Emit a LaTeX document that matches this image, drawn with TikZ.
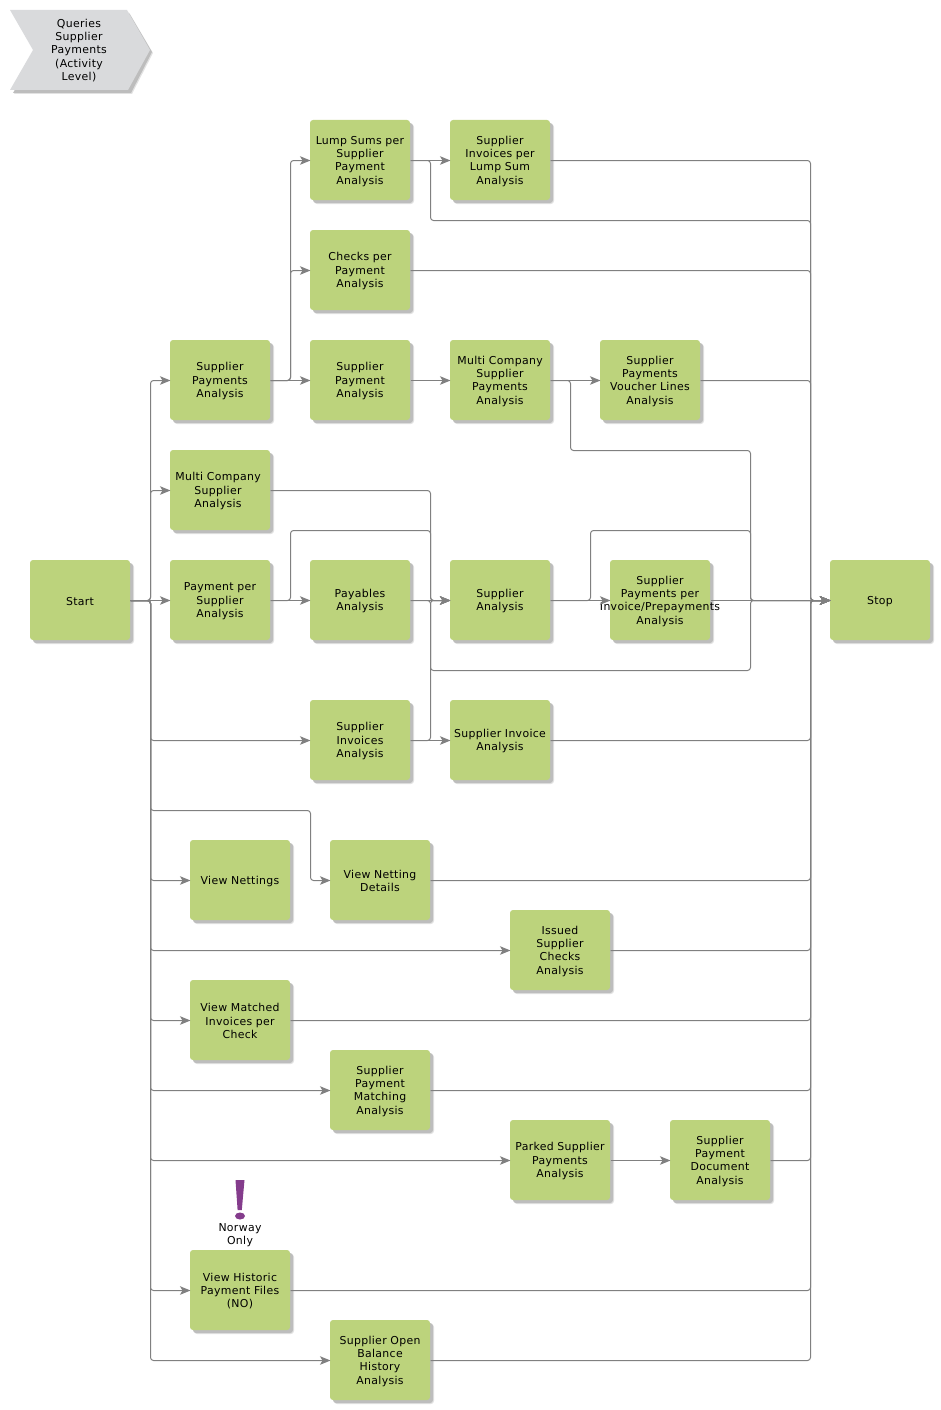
\documentclass[tikz,border=0pt]{standalone}
\usepackage{fontspec}
\setmainfont[LetterSpace=3]{DejaVu Sans}
\usetikzlibrary{arrows.meta,shadows}
\tikzset{
	activity/.style={rectangle,rounded corners=3pt,fill=boxgreen,minimum width=100pt,minimum height=80pt,inner sep=0pt,outer sep=0pt,text width=100pt,align=center,font=\fontsize{10.9}{13.3}\selectfont,execute at begin node={\rule{0pt}{10.5pt}},drop shadow={shadow xshift=4pt,shadow yshift=-4pt,fill=shadowpale,opacity=1},drop shadow={shadow xshift=3pt,shadow yshift=-3pt,fill=shadowgray,opacity=1}},
	flow/.style={draw=linegray,line width=1pt,rounded corners=3pt,transform canvas={xshift=0.5pt,yshift=-0.5pt}},
	flowto/.style={flow,-{Stealth[length=10.5pt,width=8.5pt,inset=2.5pt]}},
	caption/.style={align=center,font=\fontsize{10.9}{13.3}\selectfont}
}
\definecolor{boxgreen}{HTML}{BCD37C}
\definecolor{shadowgray}{HTML}{BDBDBD}
\definecolor{shadowpale}{HTML}{E2E2E2}
\definecolor{linegray}{HTML}{808080}
\definecolor{titlegray}{HTML}{D9DADC}
\definecolor{markpurple}{HTML}{843C8C}
\begin{document}
\begin{tikzpicture}[x=1pt,y=-1pt]
		\useasboundingbox (0,0) rectangle (940,1410);

		\fill[shadowpale] (14,14) -- (130,14) -- (153,53) -- (132,94) -- (14,94) -- (37,54) -- cycle;
		\fill[shadowgray] (13,13) -- (129,13) -- (152,52) -- (131,93) -- (13,93) -- (36,53) -- cycle;
		\fill[titlegray] (10,10) -- (127,10) -- (150,50) -- (128,90) -- (10,90) -- (33,50) -- cycle;
		\node[caption] (title) at (79,50.5) {Queries\\Supplier\\Payments\\(Activity\\Level)};

		\coordinate (busl) at (150,0);
		\coordinate (busr) at (810,0);
		\coordinate (forka) at (290,0);
		\coordinate (forkb) at (430,0);
		\coordinate (forkc) at (570,0);
		\coordinate (forkd) at (590,0);
		\coordinate (forke) at (750,0);
		\coordinate (netx) at (310,0);
		\coordinate (toprow) at (0,220);
		\coordinate (midrow) at (0,530);
		\coordinate (lowrow) at (0,670);
		\coordinate (backrow) at (0,450);
		\coordinate (netrow) at (0,810);

		\node[activity] (start) at (80,600) {Start};
		\node[activity] (stop) at (880,600) {Stop};
		\node[activity] (suppay) at (220,380) {Supplier\\Payments\\Analysis};
		\node[activity] (lump) at (360,160) {Lump Sums per\\Supplier\\Payment\\Analysis};
		\node[activity] (invlump) at (500,160) {Supplier\\Invoices per\\Lump Sum\\Analysis};
		\node[activity] (checks) at (360,270) {Checks per\\Payment\\Analysis};
		\node[activity] (payment) at (360,380) {Supplier\\Payment\\Analysis};
		\node[activity] (mcsuppay) at (500,380) {Multi Company\\Supplier\\Payments\\Analysis};
		\node[activity] (voucher) at (650,380) {Supplier\\Payments\\Voucher Lines\\Analysis};
		\node[activity] (mcsup) at (220,490) {\hspace*{-4pt}Multi Company\\\hspace*{-4pt}Supplier\\\hspace*{-4pt}Analysis};
		\node[activity] (payper) at (220,600) {Payment per\\Supplier\\Analysis};
		\node[activity] (payables) at (360,600) {Payables\\Analysis};
		\node[activity] (supana) at (500,600) {Supplier\\Analysis};
		\node[activity] (perinv) at (660,600) {Supplier\\Payments per\\\makebox[0pt]{Invoice/Prepayments}\\Analysis};
		\node[activity] (supinv) at (360,740) {Supplier\\Invoices\\Analysis};
		\node[activity] (invana) at (500,740) {Supplier Invoice\\Analysis};
		\node[activity] (nettings) at (240,880) {View Nettings};
		\node[activity] (netdet) at (380,880) {View Netting\\Details};
		\node[activity] (issued) at (560,950) {Issued\\Supplier\\Checks\\Analysis};
		\node[activity] (matched) at (240,1020) {View Matched\\Invoices per\\Check};
		\node[activity] (matching) at (380,1090) {Supplier\\Payment\\Matching\\Analysis};
		\node[activity] (parked) at (560,1160) {Parked Supplier\\Payments\\Analysis};
		\node[activity] (docana) at (720,1160) {Supplier\\Payment\\Document\\Analysis};
		\node[activity] (historic) at (240,1290) {View Historic\\Payment Files\\(NO)};
		\node[activity] (openbal) at (380,1360) {Supplier Open\\Balance\\History\\Analysis};

		\fill[markpurple] (235.5,1180) -- (244.5,1180) -- (241.8,1210) -- (237.6,1210) -- cycle;
		\fill[markpurple] (240,1216) ellipse (5 and 3.5);
		\node[caption] (norway) at (240,1235) {Norway\\Only};

		% out of start
		\draw[flowto] (start.east) -- (start.east -| busl) |- (suppay.west);
		\draw[flowto] (start.east) -- (start.east -| busl) |- (mcsup.west);
		\draw[flowto] (start.east) -- (payper.west);
		\draw[flowto] (start.east) -- (start.east -| busl) |- (supinv.west);
		\draw[flowto] (start.east) -- (start.east -| busl) |- (nettings.west);
		\draw[flowto] (start.east) -- (start.east -| busl) |- (netrow -| netx) -- (netdet.west -| netx) -- (netdet.west);
		\draw[flowto] (start.east) -- (start.east -| busl) |- (issued.west);
		\draw[flowto] (start.east) -- (start.east -| busl) |- (matched.west);
		\draw[flowto] (start.east) -- (start.east -| busl) |- (matching.west);
		\draw[flowto] (start.east) -- (start.east -| busl) |- (parked.west);
		\draw[flowto] (start.east) -- (start.east -| busl) |- (historic.west);
		\draw[flowto] (start.east) -- (start.east -| busl) |- (openbal.west);

		% between activities
		\draw[flowto] (suppay.east) -- (suppay.east -| forka) |- (lump.west);
		\draw[flowto] (suppay.east) -- (suppay.east -| forka) |- (checks.west);
		\draw[flowto] (suppay.east) -- (payment.west);
		\draw[flowto] (lump.east) -- (invlump.west);
		\draw[flowto] (payment.east) -- (mcsuppay.west);
		\draw[flowto] (mcsuppay.east) -- (voucher.west);
		\draw[flowto] (mcsup.east) -- (mcsup.east -| forkb) |- (supana.west);
		\draw[flowto] (payper.east) -- (payables.west);
		\draw[flowto] (payper.east) -- (payper.east -| forka) |- (midrow -| forkb) -- (supana.west -| forkb) -- (supana.west);
		\draw[flowto] (payables.east) -- (supana.west);
		\draw[flowto] (supana.east) -- (perinv.west);
		\draw[flowto] (supinv.east) -- (invana.west);
		\draw[flowto] (supinv.east) -- (supinv.east -| forkb) |- (supana.west);
		\draw[flowto] (parked.east) -- (docana.west);

		% into stop
		\draw[flowto] (invlump.east) -| (busr |- stop.west) -- (stop.west);
		\draw[flowto] (lump.east) -- (lump.east -| forkb) |- (toprow -| busr) -- (busr |- stop.west) -- (stop.west);
		\draw[flowto] (checks.east) -| (busr |- stop.west) -- (stop.west);
		\draw[flowto] (voucher.east) -| (busr |- stop.west) -- (stop.west);
		\draw[flowto] (mcsuppay.east) -- (mcsuppay.east -| forkc) |- (backrow -| forke) -- (forke |- stop.west) -- (stop.west);
		\draw[flowto] (supana.east) -- (supana.east -| forkd) |- (midrow -| forke) -- (forke |- stop.west) -- (stop.west);
		\draw[flowto] (perinv.east) -- (stop.west);
		\draw[flowto] (payables.east) -- (payables.east -| forkb) |- (lowrow -| forke) -- (forke |- stop.west) -- (stop.west);
		\draw[flowto] (invana.east) -| (busr |- stop.west) -- (stop.west);
		\draw[flowto] (netdet.east) -| (busr |- stop.west) -- (stop.west);
		\draw[flowto] (issued.east) -| (busr |- stop.west) -- (stop.west);
		\draw[flowto] (matched.east) -| (busr |- stop.west) -- (stop.west);
		\draw[flowto] (matching.east) -| (busr |- stop.west) -- (stop.west);
		\draw[flowto] (docana.east) -| (busr |- stop.west) -- (stop.west);
		\draw[flowto] (historic.east) -| (busr |- stop.west) -- (stop.west);
		\draw[flowto] (openbal.east) -| (busr |- stop.west) -- (stop.west);
\end{tikzpicture}
\end{document}
